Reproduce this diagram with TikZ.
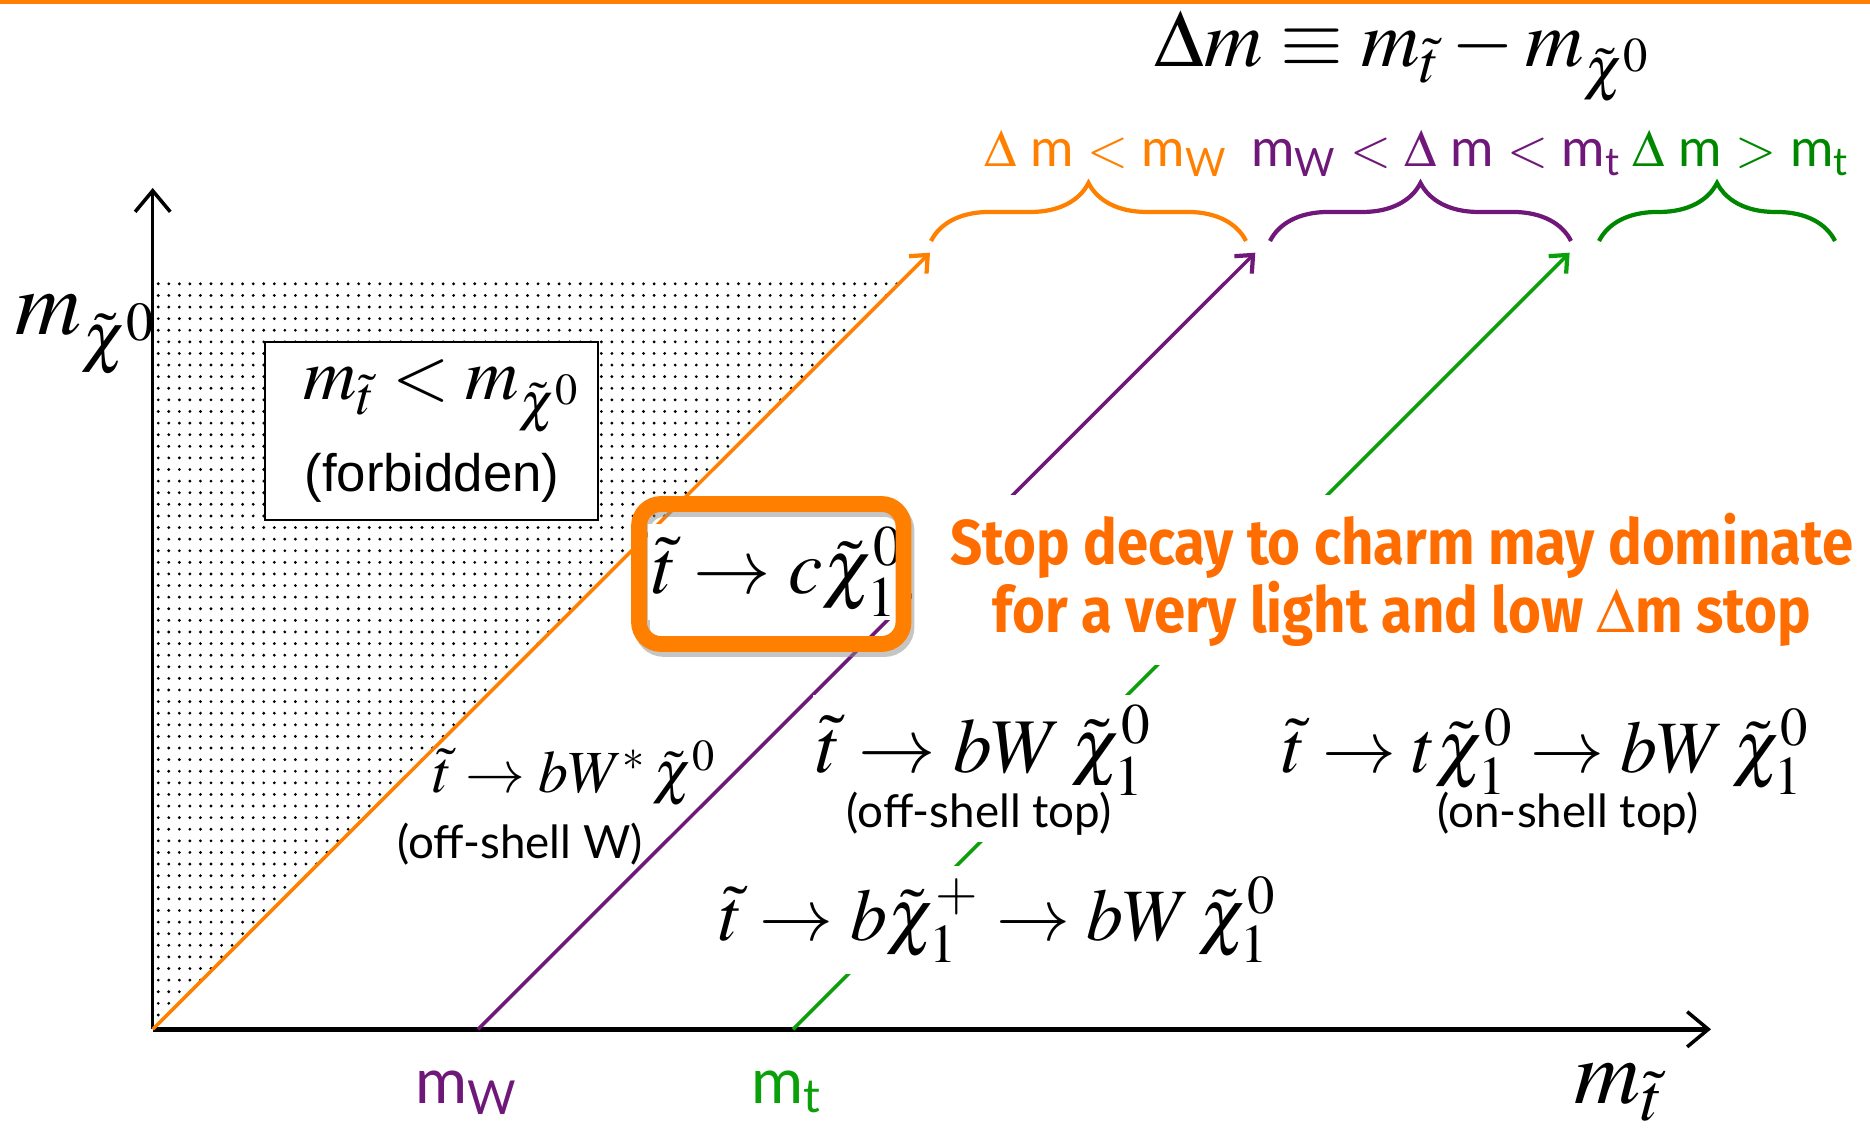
\documentclass[tikz,border=0pt]{standalone}
\usepackage{mathptmx}
\usepackage[no-math]{fontspec}
\setmainfont{Liberation Serif}
\newfontfamily\gillfont{Lato}
\newfontfamily\arialfont{Liberation Sans}
\newfontfamily\stopfont{Fira Sans}[FakeStretch=0.89]
\usepackage{xcolor}
\usetikzlibrary{patterns,decorations.pathreplacing,arrows.meta}

\definecolor{lsporange}{RGB}{255,128,0}
\definecolor{lsppurple}{RGB}{112,24,122}
\definecolor{lspgreen}{RGB}{10,160,10}
\definecolor{lspdkgreen}{RGB}{0,135,0}
\definecolor{stoptext}{RGB}{255,108,0}

\newcommand{\fsz}[1]{\fontsize{#1}{#1}\selectfont}
\pgfdeclarepatternformonly{slidedots}{\pgfqpoint{-1pt}{-1pt}}{\pgfqpoint{1pt}{1pt}}{\pgfqpoint{3pt}{3.3pt}}%
  {\pgfpathcircle{\pgfpointorigin}{0.45pt}\pgfusepath{fill}}

\begin{document}
\begin{tikzpicture}[x=0.01cm,y=-0.01cm,
  axis/.style={black,-{Straight Barb[length=6pt,width=10pt,line width=1pt]}},
  diag/.style={line width=1pt,-{Straight Barb[length=4pt,width=7pt,line width=1.2pt]}},
  region/.style={line width=1.2pt,decorate,decoration={brace,amplitude=0.58cm}},
  regionlabel/.style={anchor=base,font=\gillfont\fsz{15}},
  decay/.style={fill=white,inner sep=3pt},
  note/.style={font=\gillfont\fsz{13},inner sep=1pt}]
    \useasboundingbox (0,0) rectangle (1870,1131);

    % orange bar on top
    \fill[lsporange] (0,0) rectangle (1870,4);

    % axes and the forbidden corner
    \coordinate (O) at (152.7,1029.3);
    \coordinate (ytop) at (152.7,188);
    \coordinate (xend) at (1711,1029.3);
    \fill[pattern=slidedots] (O) -- (152.7,276.7) -- (905.3,276.7) -- cycle;
    \draw[axis,line width=0.9pt] (O) -- (ytop);
    \draw[axis,line width=1.3pt] (O) -- (xend);

    % kinematic limits
    \coordinate (mW) at (478,1029.3);
    \coordinate (mt) at (793,1029.3);
    \coordinate (oend) at (930,252.7);
    \coordinate (pend) at (1255.3,252.7);
    \coordinate (gend) at (1569.6,252.7);
    \draw[diag,lsporange] (O) -- (oend);
    \draw[diag,lsppurple] (mW) -- (pend);
    \draw[diag,lspgreen] (mt) -- (gend);

    % regions of Delta m
    \draw[region,lsporange] (931,241) -- (1246,241);
    \draw[region,lsppurple] (1270,241) -- (1571,241);
    \draw[region,lspdkgreen] (1599,241) -- (1835,241);
    \node[regionlabel,text=lsporange] (lowdm) at (1106,167) {$\Delta$ m $<$ m\textsubscript{W}};
    \node[regionlabel,text=lsppurple] (middm) at (1436,167) {m\textsubscript{W} $<$ $\Delta$ m $<$ m\textsubscript{t}};
    \node[regionlabel,text=lspdkgreen] (highdm) at (1741,167) {$\Delta$ m $>$ m\textsubscript{t}};

    % definition
    \node[anchor=base] (dmdef) at (1403,67) {\fsz{23}$\Delta m \equiv m_{\tilde t} - m_{\tilde\chi^0}$};

    % axis labels
    \node[anchor=base west,inner sep=0pt] (ylab) at (15,335) {\fsz{26}$m_{\tilde\chi^0}$};
    \node[anchor=base west,inner sep=0pt] (xlab) at (1574,1103) {\fsz{26}$m_{\tilde t}$};
    \node[anchor=base,text=lsppurple,font=\gillfont\fsz{18}] (mWlab) at (467,1103) {m\textsubscript{W}};
    \node[anchor=base,text=lspgreen,font=\gillfont\fsz{18}] (mtlab) at (787,1103) {m\textsubscript{t}};

    % forbidden box
    \node[draw,fill=white,line width=0.6pt,minimum width=3.33cm,minimum height=1.78cm] (forbid) at (431.5,431) {};
    \node[anchor=base] (forbidm) at (442,400) {\fsz{21}$m_{\tilde t} < m_{\tilde\chi^0}$};
    \node[anchor=base,font=\arialfont\fsz{15}] (forbidt) at (432,492) {(forbidden)};

    % decay modes
    \node[anchor=base,inner sep=1pt] (offW) at (575,792) {\fsz{17}$\tilde t \to bW^{*}\,\tilde\chi^0$};
    \node[anchor=base,note] (offWt) at (520,858) {(off-shell W)};
    \node[anchor=base,decay,inner xsep=1pt] (offtop) at (984,772) {\fsz{22}$\tilde t \to bW\,\tilde\chi_1^0$};
    \node[anchor=base,note,decay,inner sep=2pt] (offtopt) at (979,827) {(off-shell top)};
    \node[anchor=base,decay] (ontop) at (1546,772) {\fsz{21}$\tilde t \to t\tilde\chi_1^0 \to bW\,\tilde\chi_1^0$};
    \node[anchor=base,note] (ontopt) at (1568,827) {(on-shell top)};
    \node[anchor=base,decay] (chargino) at (998,940) {\fsz{21}$\tilde t \to b\tilde\chi_1^+ \to bW\,\tilde\chi_1^0$};

    % charm channel
    \node[fill=white,text=stoptext,align=center,inner xsep=11pt,inner ysep=5pt,font=\stopfont\bfseries\fontsize{18}{19.5}\selectfont] (stopnote) at (1402,580)
        {Stop decay to charm may dominate\\for a very light and low $\Delta$m stop};
    \draw[black!45,opacity=0.5,line width=4.5pt,rounded corners=0.22cm] (642,509) rectangle (906.5,649);
    \node[decay,inner sep=1pt] (charm) at (778,572) {\fsz{22}$\tilde t \to c\tilde\chi_1^0$};
    \draw[lsporange,line width=4.5pt,rounded corners=0.22cm] (639,504) rectangle (903.5,644);
\end{tikzpicture}
\end{document}
